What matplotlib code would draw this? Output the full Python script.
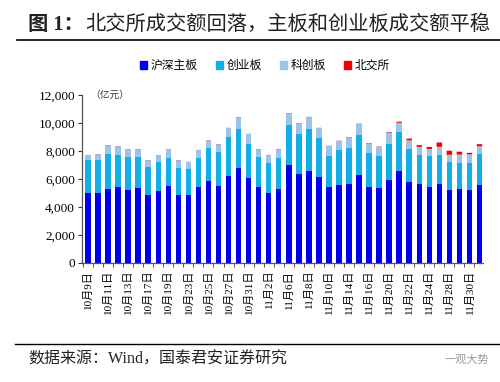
import numpy as np
import matplotlib
matplotlib.use("Agg")
from matplotlib import pyplot as plt
from matplotlib.lines import Line2D
from matplotlib.patches import Patch

plt.rcParams['font.family'] = ['Liberation Serif', 'Noto Sans CJK SC']

# trading days, 2023-10-09 .. 2023-12-01
dates = ['10月9日', '10月10日', '10月11日', '10月12日', '10月13日', '10月16日', '10月17日',
         '10月18日', '10月19日', '10月20日', '10月23日', '10月24日', '10月25日', '10月26日',
         '10月27日', '10月30日', '10月31日', '11月1日', '11月2日', '11月3日', '11月6日',
         '11月7日', '11月8日', '11月9日', '11月10日', '11月13日', '11月14日', '11月15日',
         '11月16日', '11月17日', '11月20日', '11月21日', '11月22日', '11月23日', '11月24日',
         '11月27日', '11月28日', '11月29日', '11月30日', '12月1日']

main_board = [5010, 5010, 5300, 5460, 5180, 5340, 4840, 5130, 5490, 4840,
              4840, 5420, 5850, 5490, 6200, 6780, 6060, 5440, 5010, 5250,
              7020, 6390, 6540, 6160, 5420, 5560, 5630, 6300, 5420, 5340,
              5920, 6540, 5770, 5630, 5460, 5630, 5220, 5250, 5220, 5560]
chinext = [2320, 2320, 2500, 2240, 2360, 2220, 2050, 2050, 2030, 1930,
           1860, 2100, 2360, 2460, 2790, 2770, 2430, 2120, 2150, 2240,
           2810, 2840, 3050, 2790, 2220, 2480, 2580, 2820, 2430, 2290,
           2600, 2790, 2410, 2120, 2170, 2100, 1960, 1910, 1930, 2220]
star = [380, 430, 620, 640, 570, 570, 450, 500, 620, 570,
        520, 550, 550, 520, 670, 860, 760, 570, 550, 620,
        860, 740, 840, 720, 720, 690, 760, 830, 690, 690,
        810, 690, 570, 550, 520, 570, 550, 600, 620, 570]
bse = [8, 8, 8, 8, 8, 8, 8, 8, 8, 8,
       8, 8, 8, 8, 10, 10, 10, 10, 10, 10,
       12, 12, 12, 12, 12, 15, 15, 18, 20, 25,
       35, 80, 140, 120, 140, 310, 290, 190, 100, 140]

labels = ['沪深主板', '创业板', '科创板', '北交所']
colors = ['#0000F0', '#12AEE8', '#9DC3E6', '#F00000']

fig = plt.figure(figsize=(5.0, 3.82), dpi=100)
ax = fig.add_axes([0.164, 0.312, 0.802, 0.439])

x = np.arange(len(dates))
bottom = np.zeros(len(dates))
for vals, c in zip([main_board, chinext, star, bse], colors):
    bars = ax.bar(x, vals, width=0.55, bottom=bottom, color=c, linewidth=0)
    if c == colors[-1]:
        for b in bars:
            b.set_snap(False)
    bottom += np.array(vals)

ax.set_xlim(-0.6, len(dates) - 0.65)
ax.set_ylim(0, 12000)
ax.set_yticks(np.arange(0, 12001, 2000))
ax.set_yticklabels([f'{v:,}' for v in range(0, 12001, 2000)], fontsize=9.5)

ax.set_xticks(x[::2])
ax.set_xticklabels(dates[::2], rotation=90, fontsize=8)
ax.set_xticks(np.arange(-0.5, len(dates) - 0.5, 1), minor=True)
ax.tick_params(axis='x', which='major', length=0, pad=5)
ax.tick_params(axis='x', which='minor', length=3, color='#333333')
ax.tick_params(axis='y', length=3, color='#333333', pad=2)

for s in ['top', 'right']:
    ax.spines[s].set_visible(False)
for s in ['left', 'bottom']:
    ax.spines[s].set_color('#555555')
    ax.spines[s].set_linewidth(0.9)

ax.text(0.02, 1.0, '（亿元）', transform=ax.transAxes, fontsize=7,
        va='center', ha='left', color='#333333')

handles = [Patch(color=c) for c in colors]
fig.legend(handles, labels, loc='center', bbox_to_anchor=(0.53, 0.827), ncol=4,
           frameon=False, fontsize=8.5, handlelength=0.6, handleheight=0.6,
           handletextpad=0.35, columnspacing=1.5)

fig.text(0.056, 0.935, '图 1：', fontsize=14.6, fontweight='bold',
         va='center', ha='left', color='#222222')
fig.text(0.17, 0.935, '北交所成交额回落，主板和创业板成交额平稳', fontsize=14.6,
         va='center', ha='left', color='#222222')
fig.add_artist(Line2D([0.034, 1.0], [0.896, 0.896], color='black', linewidth=1.2))
fig.add_artist(Line2D([0.03, 1.0], [0.1, 0.1], color='black', linewidth=1.0))
fig.text(0.056, 0.058, '数据来源：Wind，国泰君安证券研究', fontsize=11.5,
         va='center', ha='left', color='#222222')
fig.text(0.89, 0.058, '一观大势', fontsize=8, va='center', ha='left', color='#999999')

fig.savefig('out.png', dpi=100)
